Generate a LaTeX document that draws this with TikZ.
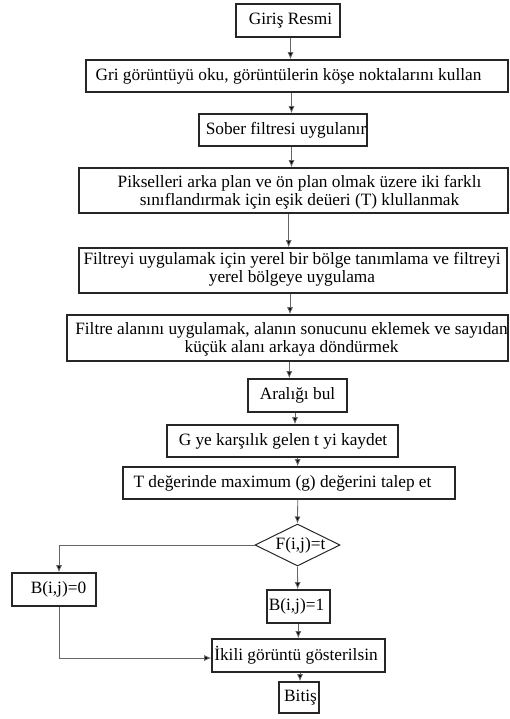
\documentclass[tikz,border=0pt]{standalone}
\usepackage{fontspec}
\setmainfont{Liberation Serif}
\usetikzlibrary{arrows.meta,shapes.geometric}
\begin{document}
\begin{tikzpicture}[x=1pt,y=-1pt,
  box/.style={draw=black!85,line width=1.6pt,inner sep=0pt},
  txt/.style={inner sep=0pt,align=center,font=\fontsize{17.3}{18}\selectfont},
  arr/.style={draw=black!60,line width=0.8pt,-{Latex[length=7pt,width=6pt,fill=black]}},
  ln/.style={draw=black!60,line width=0.8pt}]
\useasboundingbox (0,0) rectangle (509,719);
% boxes
\node[box,minimum width=104,minimum height=33] (b1) at (288,20.5) {};
\node[txt] (t1) at (290.5,20.5) {Giriş Resmi};
\node[box,minimum width=422,minimum height=32] (b2) at (297,76) {};
\node[txt] (t2) at (288.5,76) {Gri görüntüyü oku, görüntülerin köşe noktalarını kullan};
\node[box,minimum width=168,minimum height=32] (b3) at (283,130) {};
\node[txt] (t3) at (286,130) {Sober filtresi uygulanır};
\node[box,minimum width=429,minimum height=45] (b4) at (293.5,190.5) {};
\node[txt] (t4) at (299.5,192) {Pikselleri arka plan ve ön plan olmak üzere iki farklı\\sınıflandırmak için eşik deüeri (T) klullanmak};
\node[box,minimum width=428,minimum height=45] (b5) at (293,270.5) {};
\node[txt] (t5) at (292,269) {Filtreyi uygulamak için yerel bir bölge tanımlama ve filtreyi\\yerel bölgeye uygulama};
\node[box,minimum width=441,minimum height=46] (b6) at (287.5,338) {};
\node[txt] (t6) at (291.5,339) {Filtre alanını uygulamak, alanın sonucunu eklemek ve sayıdan\\küçük alanı arkaya döndürmek};
\node[box,minimum width=99,minimum height=33] (b7) at (297.5,395.5) {};
\node[txt] (t7) at (297.5,395.5) {Aralığı bul};
\node[box,minimum width=231,minimum height=32] (b8) at (282.5,441) {};
\node[txt] (t8) at (283,441) {G ye karşılık gelen t yi kaydet};
\node[box,minimum width=332,minimum height=32] (b9) at (289,483) {};
\node[txt] (t9) at (282.5,483) {T değerinde maximum (g) değerini talep et};
\node[draw=black!85,line width=1pt,diamond,minimum width=85,minimum height=42,inner sep=0pt] (d) at (297.5,545) {};
\node[txt] (td) at (300.5,545) {F(i,j)=t};
\node[box,minimum width=84,minimum height=33] (b0) at (54,589.5) {};
\node[txt] (t0) at (58.5,589.5) {B(i,j)=0};
\node[box,minimum width=63,minimum height=33] (bb) at (298.5,606.5) {};
\node[txt] (tb) at (296.5,606.5) {B(i,j)=1};
\node[box,minimum width=173,minimum height=33] (bk) at (298.5,655.5) {};
\node[txt] (tk) at (296,655.5) {İkili görüntü gösterilsin};
\node[box,minimum width=40,minimum height=31] (be) at (299,697.5) {};
\node[txt] (te) at (300.5,697.5) {Bitiş};
% connectors
\coordinate (x1) at (290.5,0);
\draw[arr] (b1.south -| x1) -- (b2.north -| x1);
\coordinate (x2) at (291.5,0);
\draw[arr] (b2.south -| x2) -- (b3.north -| x2);
\draw[arr] (b3.south -| x2) -- (b4.north -| x2);
\coordinate (x3) at (288.7,0);
\draw[arr] (b4.south -| x3) -- (b5.north -| x3);
\coordinate (x4) at (290,0);
\draw[arr] (b5.south -| x4) -- (b6.north -| x4);
\coordinate (x5) at (289.3,0);
\draw[arr] (b6.south -| x5) -- (b7.north -| x5);
\coordinate (x6) at (295,0);
\draw[arr] (b7.south -| x6) -- (b8.north -| x6);
\coordinate (x7) at (297.7,0);
\draw[arr] (b8.south -| x7) -- (b9.north -| x7);
\draw[arr] (b9.south -| x7) -- (d.north);
\draw[arr] (d.south) -- (bb.north -| x7);
\coordinate (x8) at (298.3,0);
\draw[arr] (bb.south -| x8) -- (bk.north -| x8);
\coordinate (x9) at (300,0);
\draw[arr] (bk.south -| x9) -- (be.north -| x9);
\coordinate (xl) at (59,0);
\draw[arr] (d.west) -| (b0.north -| xl);
\coordinate (yl) at (0,658);
\draw[arr] (b0.south -| xl) |- (bk.west |- yl);
\end{tikzpicture}
\end{document}
